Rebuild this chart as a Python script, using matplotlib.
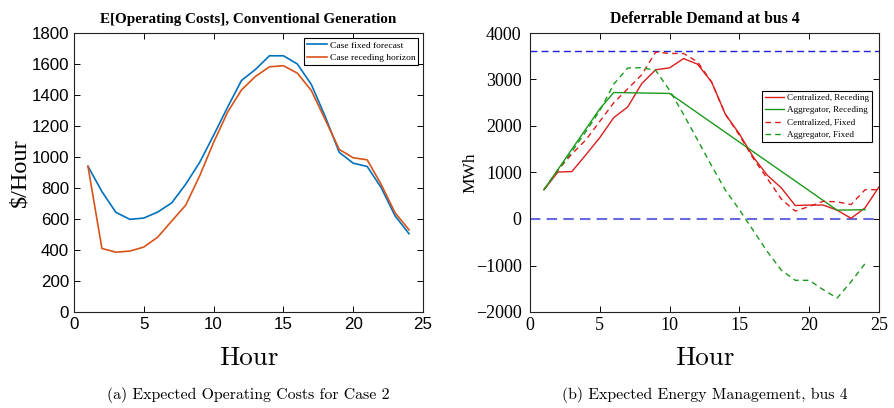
import matplotlib
matplotlib.use("Agg")
import matplotlib.pyplot as plt

# ---- left panel: expected operating costs ----
hours = list(range(1, 25))
cost_fixed = [940, 777, 643, 598, 606, 645, 704, 824, 965, 1140, 1321, 1494,
              1565, 1653, 1653, 1600, 1468, 1260, 1030, 960, 939, 803, 620, 505]
cost_receding = [940, 410, 386, 393, 419, 483, 587, 689, 878, 1094, 1289, 1433,
                 1520, 1582, 1589, 1541, 1429, 1240, 1049, 995, 982, 824, 640, 530]

# ---- right panel: deferrable demand at bus 4 ----
hours_25 = list(range(1, 26))
cent_receding = [630, 1010, 1020, 1380, 1750, 2180, 2410, 2910, 3210, 3250, 3450, 3330,
                 2950, 2250, 1830, 1330, 940, 670, 290, 300, 300, 190, 15, 240, 690]
cent_fixed = [630, 1050, 1400, 1700, 2100, 2500, 2800, 3100, 3590, 3560, 3560, 3380,
              2950, 2250, 1800, 1300, 870, 430, 170, 270, 380, 370, 310, 630, 630]
agg_rec_hours = [1, 5, 6, 10, 22, 24]
agg_receding = [630, 2370, 2720, 2700, 190, 200]
agg_fixed = [630, 1050, 1450, 1880, 2330, 2900, 3247, 3254, 3197, 2767, 2250, 1700,
             1150, 620, 200, -250, -700, -1100, -1319, -1319, -1520, -1700, -1350, -960]
dd_max = 3620
dd_min = 0

fig = plt.figure(figsize=(8.94, 4.08), dpi=100)
ax1 = fig.add_axes([74 / 894, 1 - 312 / 408, 349 / 894, 279 / 408])
ax2 = fig.add_axes([530 / 894, 1 - 312 / 408, 349 / 894, 279 / 408])

for ax in (ax1, ax2):
    ax.tick_params(direction="in", top=True, right=True, length=4, width=0.7)
    for s in ax.spines.values():
        s.set_linewidth(0.8)
        s.set_color("#222222")

# left
ax1.plot(hours, cost_fixed, color="#0072BD", lw=1.2, label="Case fixed forecast")
ax1.plot(hours, cost_receding, color="#D95319", lw=1.2, label="Case receding horizon")
ax1.set_xlim(0, 25)
ax1.set_ylim(0, 1800)
ax1.set_xticks(range(0, 26, 5))
ax1.set_yticks(range(0, 1801, 200))
for lab in ax1.get_xticklabels() + ax1.get_yticklabels():
    lab.set_fontfamily("Liberation Sans")
    lab.set_fontsize(12.2)
ax1.set_title("E[Operating Costs], Conventional Generation", fontfamily="Liberation Serif",
              fontweight="bold", fontsize=10.9, pad=7)
leg1 = ax1.legend(loc="upper right", bbox_to_anchor=(0.986, 0.981), borderaxespad=0,
                  prop={"family": "Liberation Serif", "size": 6.8},
                  fancybox=False, edgecolor="black", framealpha=1, borderpad=0.3,
                  labelspacing=0.4, handlelength=2.1, handletextpad=0.3)
leg1.get_frame().set_linewidth(0.8)

# right
ax2.axhline(dd_max, color="#2020e0", lw=1.0, ls=(0, (5, 3)))
ax2.axhline(dd_min, color="#6a6ae0", lw=1.5, ls=(0, (5, 3)))
ax2.plot(hours_25, cent_receding, color="#dd1c1c", lw=1.0, label="Centralized, Receding")
ax2.plot(agg_rec_hours, agg_receding, color="#1a9a1a", lw=1.0, label="Aggregator, Receding")
ax2.plot(hours_25, cent_fixed, color="#dd1c1c", lw=1.0, ls=(0, (4, 3)), label="Centralized, Fixed")
ax2.plot(hours, agg_fixed, color="#1a9a1a", lw=1.0, ls=(0, (4, 3)), label="Aggregator, Fixed")
ax2.set_xlim(0, 25)
ax2.set_ylim(-2000, 4000)
ax2.set_xticks(range(0, 26, 5))
ax2.set_yticks(range(-2000, 4001, 1000))
ax2.tick_params(axis="y", pad=6)
for lab in ax2.get_xticklabels() + ax2.get_yticklabels():
    lab.set_fontfamily("Liberation Serif")
    lab.set_fontsize(13)
ax2.set_title("Deferrable Demand at bus 4", fontfamily="Liberation Serif",
              fontweight="bold", fontsize=11.3, pad=7)
leg2 = ax2.legend(loc="center right", bbox_to_anchor=(0.979, 0.701), borderaxespad=0,
                  prop={"family": "Liberation Serif", "size": 6.6},
                  fancybox=False, edgecolor="black", framealpha=1, borderpad=0.3,
                  labelspacing=0.45, handlelength=2.1, handletextpad=0.3)
leg2.get_frame().set_linewidth(0.8)

# axis labels and captions
cx1 = (74 + 349 / 2) / 894
cx2 = (530 + 349 / 2) / 894
fig.text(20 / 894, 0.577, r"\$/Hour", rotation=90, ha="center", va="center",
         fontfamily="Liberation Serif", fontsize=17.5)
fig.text(470 / 894, 0.577, "MWh", rotation=90, ha="center", va="center",
         fontfamily="Liberation Serif", fontsize=12.5)
for cx in (cx1, cx2):
    fig.text(cx, 1 - 358 / 408, "Hour", ha="center", va="center",
             fontfamily="cmr10", fontsize=19.5)
fig.text(cx1, 1 - 395 / 408, "(a) Expected Operating Costs for Case 2", ha="center",
         va="center", fontfamily="cmr10", fontsize=11.4)
fig.text(cx2, 1 - 395 / 408, "(b) Expected Energy Management, bus 4", ha="center",
         va="center", fontfamily="cmr10", fontsize=11.4)

fig.savefig("out.png", dpi=100)
